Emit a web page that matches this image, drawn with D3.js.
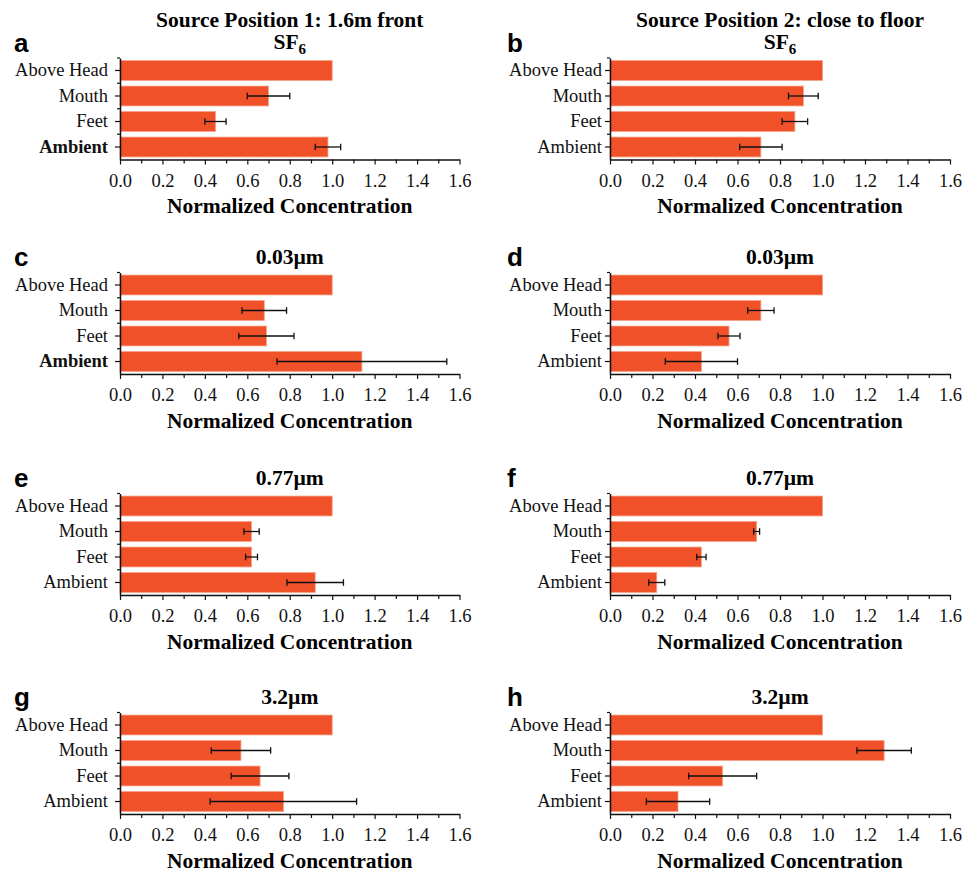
<!DOCTYPE html>
<html>
<head>
<meta charset="utf-8">
<script src="https://cdn.jsdelivr.net/npm/d3@7/dist/d3.min.js"></script>
<style>
  html, body { margin: 0; padding: 0; background: #fff; }
  svg { display: block; }
</style>
</head>
<body>
<svg id="chart" width="964" height="872"></svg>
<script>
// ---------- DATA ----------
const categories = ["Above Head", "Mouth", "Feet", "Ambient"];
const panelLetters = ["a", "b", "c", "d", "e", "f", "g", "h"];
const columnTitles = ["Source Position 1: 1.6m front", "Source Position 2: close to floor"];
const rowTitles = ["SF6", "0.03µm", "0.77µm", "3.2µm"];
const xTickValues = [0, 0.2, 0.4, 0.6, 0.8, 1.0, 1.2, 1.4, 1.6];
const xMinorTickValues = [0.1, 0.3, 0.5, 0.7, 0.9, 1.1, 1.3, 1.5];
const xAxisTitle = "Normalized Concentration";

const valuesA = [1.0, 0.70, 0.45, 0.98];  const errorsA = [0, 0.10, 0.05, 0.06];
const valuesB = [1.0, 0.91, 0.87, 0.71];  const errorsB = [0, 0.07, 0.06, 0.10];
const valuesC = [1.0, 0.68, 0.69, 1.14];  const errorsC = [0, 0.105, 0.13, 0.40];
const valuesD = [1.0, 0.71, 0.56, 0.43];  const errorsD = [0, 0.062, 0.052, 0.17];
const valuesE = [1.0, 0.62, 0.62, 0.92];  const errorsE = [0, 0.036, 0.028, 0.133];
const valuesF = [1.0, 0.69, 0.43, 0.22];  const errorsF = [0, 0.014, 0.022, 0.038];
const valuesG = [1.0, 0.57, 0.66, 0.77];  const errorsG = [0, 0.14, 0.136, 0.345];
const valuesH = [1.0, 1.29, 0.53, 0.32];  const errorsH = [0, 0.128, 0.16, 0.149];
const boldAmbientPanels = ["a", "c"];

const panelValues = [valuesA, valuesB, valuesC, valuesD, valuesE, valuesF, valuesG, valuesH];
const panelErrors = [errorsA, errorsB, errorsC, errorsD, errorsE, errorsF, errorsG, errorsH];

// ---------- LAYOUT ----------
const colX = [[120, 459.5], [610, 950]];
const labelGap = [12, 8];
const letterX = [14, 507];
const rowTop = [58, 272.5, 493.5, 712.5];
const plotH = 101.5;
const barColor = "#F05128";
const serif = "'Liberation Serif', 'Times New Roman', serif";
const sans = "'Liberation Sans', Arial, sans-serif";

const svg = d3.select("#chart");

// column titles
columnTitles.forEach((t, c) => {
  svg.append("text")
    .attr("x", (colX[c][0] + colX[c][1]) / 2)
    .attr("y", 26.5)
    .attr("text-anchor", "middle")
    .attr("font-family", serif)
    .attr("font-weight", "bold")
    .attr("font-size", 21.5)
    .text(t);
});

panelLetters.forEach((letter, i) => {
  const col = i % 2, row = Math.floor(i / 2);
  const top = rowTop[row];
  const bottom = top + plotH;
  const x = d3.scaleLinear().domain([0, 1.6]).range(colX[col]);
  const y = d3.scaleBand().domain(categories).range([top, bottom])
    .paddingInner(0.22).paddingOuter(0.1);
  const vals = panelValues[i], errs = panelErrors[i];
  const data = categories.map((cat, k) => ({ cat, v: vals[k], e: errs[k] }));
  const g = svg.append("g");

  // panel letter
  g.append("text")
    .attr("x", letterX[col]).attr("y", top - 6.5)
    .attr("font-family", sans).attr("font-weight", "bold")
    .attr("font-size", 26)
    .text(letter);

  // row title
  const rt = g.append("text")
    .attr("x", (colX[col][0] + colX[col][1]) / 2)
    .attr("y", top - 9)
    .attr("text-anchor", "middle")
    .attr("font-family", serif).attr("font-weight", "bold")
    .attr("font-size", 21.5);
  const rtitle = rowTitles[row];
  if (rtitle === "SF6") {
    rt.append("tspan").text("SF");
    rt.append("tspan").attr("font-size", 15).attr("dy", 5).text("6");
  } else {
    rt.text(rtitle);
  }

  // bars
  g.selectAll("rect.bar").data(data).enter().append("rect")
    .attr("class", "bar")
    .attr("x", x(0))
    .attr("y", d => y(d.cat))
    .attr("width", d => x(d.v) - x(0))
    .attr("height", y.bandwidth())
    .attr("fill", barColor)
    .attr("stroke", "#F7A189")
    .attr("stroke-width", 0.8);

  // error bars
  const eb = data.filter(d => d.e > 0);
  const cap = 3.3;
  g.selectAll("line.err").data(eb).enter().append("line")
    .attr("x1", d => x(d.v - d.e)).attr("x2", d => x(d.v + d.e))
    .attr("y1", d => y(d.cat) + y.bandwidth() / 2)
    .attr("y2", d => y(d.cat) + y.bandwidth() / 2)
    .attr("stroke", "#111").attr("stroke-width", 1.3);
  g.selectAll("line.capL").data(eb).enter().append("line")
    .attr("x1", d => x(d.v - d.e)).attr("x2", d => x(d.v - d.e))
    .attr("y1", d => y(d.cat) + y.bandwidth() / 2 - cap)
    .attr("y2", d => y(d.cat) + y.bandwidth() / 2 + cap)
    .attr("stroke", "#111").attr("stroke-width", 1.3);
  g.selectAll("line.capR").data(eb).enter().append("line")
    .attr("x1", d => x(d.v + d.e)).attr("x2", d => x(d.v + d.e))
    .attr("y1", d => y(d.cat) + y.bandwidth() / 2 - cap)
    .attr("y2", d => y(d.cat) + y.bandwidth() / 2 + cap)
    .attr("stroke", "#111").attr("stroke-width", 1.3);

  // x axis
  const xAxis = g.append("g").attr("transform", `translate(0,${bottom})`)
    .call(d3.axisBottom(x).tickValues(xTickValues).tickFormat(d3.format(".1f")).tickSize(5).tickSizeOuter(0));
  xAxis.select(".domain").attr("stroke", "#111").attr("stroke-width", 1.5);
  xAxis.selectAll(".tick line").attr("stroke", "#111").attr("stroke-width", 1.2);
  xAxis.selectAll(".tick text")
    .attr("font-family", serif).attr("font-size", 18.5).attr("fill", "#111")
    .attr("dy", null).attr("y", 27);
  const xMinor = g.append("g").attr("transform", `translate(0,${bottom})`)
    .call(d3.axisBottom(x).tickValues(xMinorTickValues).tickFormat("").tickSize(4).tickSizeOuter(0));
  xMinor.select(".domain").remove();
  xMinor.selectAll(".tick line").attr("stroke", "#111").attr("stroke-width", 1.2);

  // y axis
  const yAxis = g.append("g").attr("transform", `translate(${x(0)},0)`)
    .call(d3.axisLeft(y).tickSize(5).tickSizeOuter(0).tickPadding(labelGap[col] - 5));
  yAxis.select(".domain").attr("stroke", "#111").attr("stroke-width", 1.5);
  yAxis.selectAll(".tick line").attr("stroke", "#111").attr("stroke-width", 1.2);
  yAxis.selectAll(".tick text")
    .attr("font-family", serif).attr("font-size", 18.5).attr("fill", "#111")
    .attr("font-weight", d => (d === "Ambient" && boldAmbientPanels.includes(letter)) ? "bold" : "normal");
  // boundary ticks between categories
  const bounds = [top].concat(categories.slice(1).map(c => y(c) - y.step() * y.paddingInner() / 2));
  g.selectAll("line.bt").data(bounds).enter().append("line")
    .attr("x1", x(0) - 3).attr("x2", x(0))
    .attr("y1", d => d).attr("y2", d => d)
    .attr("stroke", "#111").attr("stroke-width", 1.2);

  // x axis title
  g.append("text")
    .attr("x", (colX[col][0] + colX[col][1]) / 2)
    .attr("y", bottom + 53.5)
    .attr("text-anchor", "middle")
    .attr("font-family", serif).attr("font-weight", "bold")
    .attr("font-size", 21.5)
    .text(xAxisTitle);
});
</script>
</body>
</html>
